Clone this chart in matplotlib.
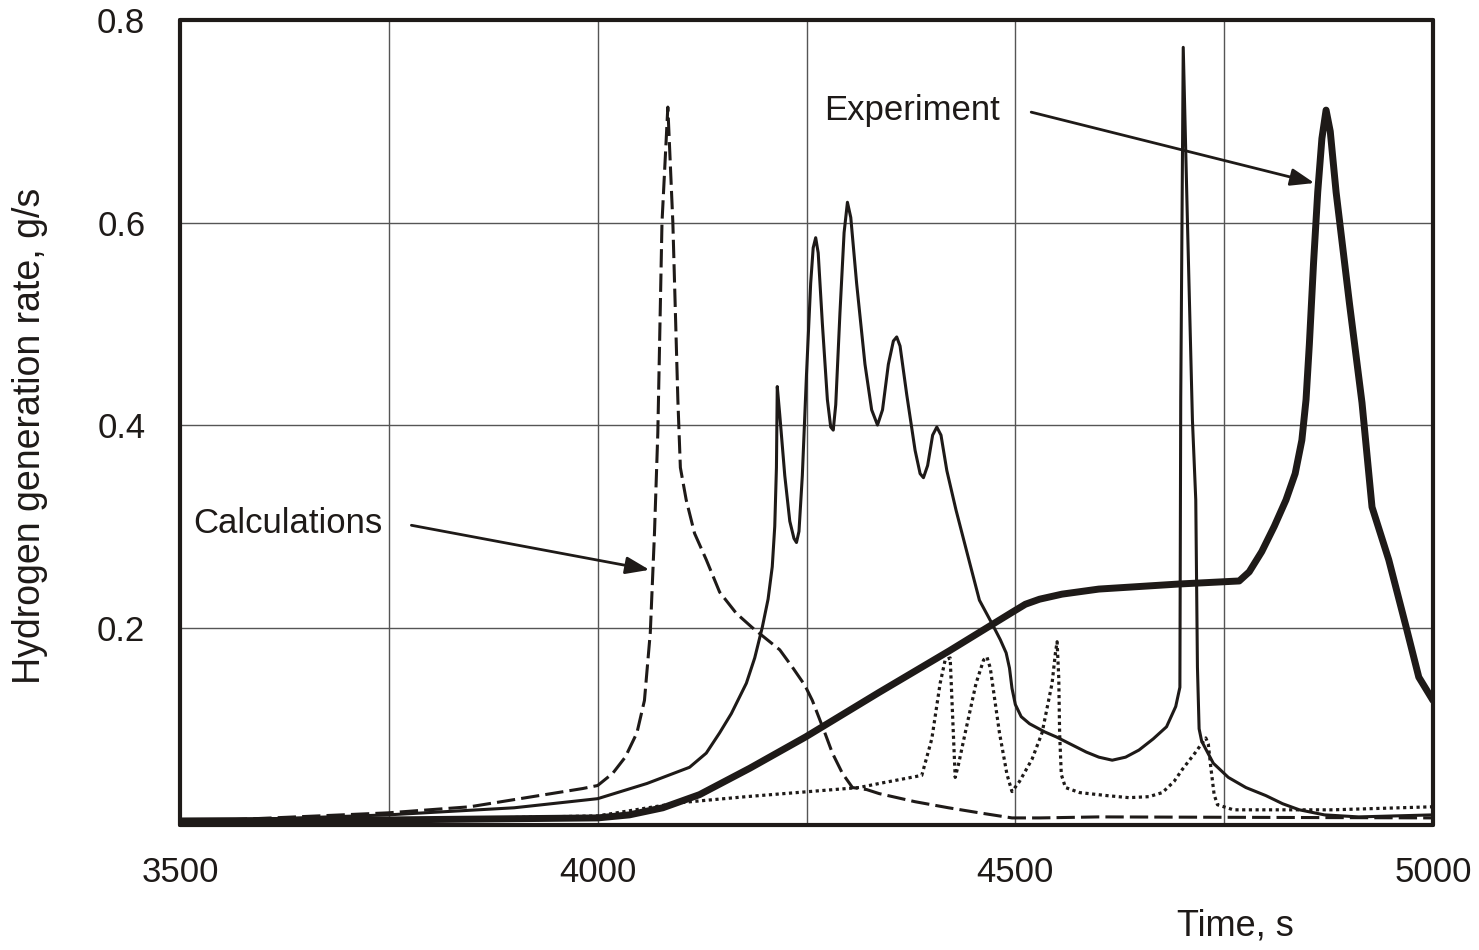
import numpy as np
import matplotlib
matplotlib.use('Agg')
import matplotlib.pyplot as plt

# experiment (thick line)
exp_t = [3500, 3749, 4000, 4038, 4078, 4122, 4182, 4249, 4337, 4421, 4496, 4512, 4529, 4556, 4600,
         4696, 4768, 4780, 4795, 4810, 4824, 4835, 4843, 4848, 4852, 4857, 4862, 4867, 4872,
         4877, 4884, 4900, 4915, 4927, 4947, 4968, 4983, 5000]
exp_g = [0.009, 0.010, 0.012, 0.015, 0.022, 0.035, 0.061, 0.092, 0.136, 0.177, 0.215, 0.223, 0.228, 0.233, 0.238,
         0.243, 0.246, 0.255, 0.275, 0.300, 0.326, 0.352, 0.385, 0.425, 0.480, 0.560, 0.630, 0.683, 0.711,
         0.690, 0.630, 0.520, 0.422, 0.319, 0.267, 0.200, 0.151, 0.128]

# calculation 1 (dashed)
calc1_t = [3500, 3749, 3847, 3982, 4000, 4018, 4033, 4047, 4056, 4063, 4068, 4072, 4077, 4084, 4090,
           4096, 4099, 4106, 4116, 4130, 4146, 4166, 4185, 4218, 4233, 4248, 4257, 4272, 4281, 4293,
           4305, 4322, 4337, 4380, 4420, 4457, 4496, 4530, 4600, 5000]
calc1_g = [0.008, 0.017, 0.023, 0.041, 0.044, 0.056, 0.072, 0.096, 0.128, 0.195, 0.293, 0.392, 0.600, 0.714, 0.600,
           0.425, 0.358, 0.326, 0.293, 0.267, 0.235, 0.214, 0.200, 0.178, 0.161, 0.143, 0.128, 0.096, 0.076, 0.056,
           0.042, 0.040, 0.036, 0.028, 0.022, 0.017, 0.012, 0.012, 0.013, 0.012]

# calculation 2 (thin solid)
calc2_t = [3500, 3749, 3900, 4000, 4059, 4110, 4130, 4146, 4160, 4178, 4188, 4197, 4204, 4209, 4212,
           4214, 4215, 4218, 4224, 4230, 4235, 4238, 4241, 4245, 4250, 4255, 4258, 4261, 4264, 4269,
           4275, 4279, 4282, 4285, 4290, 4295, 4299, 4303, 4310, 4320, 4328, 4335, 4341, 4348, 4354,
           4358, 4362, 4370, 4380, 4386, 4390, 4395, 4401, 4406, 4411, 4418, 4429, 4445, 4457, 4472,
           4482, 4489, 4493, 4496, 4500, 4507, 4517, 4535, 4549, 4585, 4600, 4616, 4632, 4648, 4665,
           4681, 4692, 4697, 4698, 4701, 4706, 4712, 4716, 4718, 4720, 4723, 4728, 4737, 4755, 4776,
           4800, 4820, 4840, 4870, 4911, 5000]
calc2_g = [0.008, 0.015, 0.022, 0.031, 0.046, 0.062, 0.076, 0.096, 0.115, 0.145, 0.170, 0.200, 0.228, 0.260, 0.300,
           0.358, 0.438, 0.410, 0.350, 0.305, 0.288, 0.284, 0.295, 0.350, 0.450, 0.540, 0.575, 0.585, 0.570, 0.500,
           0.425, 0.398, 0.395, 0.420, 0.510, 0.590, 0.620, 0.605, 0.540, 0.460, 0.415, 0.400, 0.415, 0.460, 0.483,
           0.487, 0.478, 0.430, 0.375, 0.352, 0.348, 0.360, 0.390, 0.398, 0.390, 0.355, 0.316, 0.265, 0.227, 0.204,
           0.188, 0.175, 0.160, 0.140, 0.124, 0.112, 0.105, 0.097, 0.092, 0.077, 0.072, 0.069, 0.072, 0.079, 0.090,
           0.102, 0.122, 0.141, 0.425, 0.773, 0.602, 0.405, 0.326, 0.161, 0.100, 0.088, 0.080, 0.066, 0.052, 0.042,
           0.034, 0.026, 0.020, 0.015, 0.013, 0.015]

# calculation 3 (dotted)
calc3_t = [3500, 3749, 4000, 4098, 4178, 4313, 4337, 4388, 4400, 4410, 4416, 4422, 4428, 4432, 4440,
           4453, 4462, 4466, 4470, 4481, 4490, 4496, 4505, 4520, 4532, 4544, 4548, 4550, 4552, 4553,
           4555, 4560, 4577, 4610, 4636, 4660, 4676, 4690, 4700, 4715, 4728, 4731, 4734, 4738, 4742,
           4761, 4880, 5000]
calc3_g = [0.007, 0.010, 0.014, 0.027, 0.033, 0.042, 0.046, 0.054, 0.090, 0.145, 0.168, 0.170, 0.052, 0.065, 0.096,
           0.145, 0.168, 0.171, 0.160, 0.096, 0.055, 0.038, 0.048, 0.070, 0.096, 0.145, 0.175, 0.186, 0.150, 0.096,
           0.055, 0.042, 0.037, 0.034, 0.032, 0.033, 0.037, 0.048, 0.060, 0.076, 0.091, 0.085, 0.062, 0.035, 0.025,
           0.020, 0.020, 0.023]

x_major = [3500, 4000, 4500, 5000]
x_minor = [3750, 4250, 4750]
y_major = [0.2, 0.4, 0.6, 0.8]

ink = '#1e1a18'
plt.rcParams['font.family'] = ['Liberation Sans', 'DejaVu Sans']

fig = plt.figure(figsize=(14.79, 9.5), dpi=100)
ax = fig.add_axes([180 / 1479, 1 - 825 / 950, 1253 / 1479, 805 / 950])

ax.plot(calc3_t, calc3_g, color=ink, lw=2.3, linestyle=(0, (1, 1.1)))
ax.plot(calc1_t, calc1_g, color=ink, lw=2.2, linestyle=(0, (6, 2)))
ax.plot(calc2_t, calc2_g, color=ink, lw=2.2, solid_joinstyle='round')
ax.plot(exp_t, exp_g, color=ink, lw=5.0, solid_joinstyle='round', solid_capstyle='round')

ax.set_xlim(3500, 5000)
ax.set_ylim(0.005, 0.8)
ax.set_xticks(x_major)
ax.set_xticks(x_minor, minor=True)
ax.set_yticks(y_major)
ax.set_xticklabels([str(v) for v in x_major])
ax.set_yticklabels(['%.1f' % v for v in y_major])
ax.tick_params(which='both', length=0, labelsize=25, labelcolor=ink)
ax.tick_params(axis='x', pad=22)
ax.tick_params(axis='y', pad=25)
ax.grid(True, which='both', color='#555555', lw=1.0)
ax.set_axisbelow(True)

for s in ax.spines.values():
    s.set_linewidth(3)
    s.set_color(ink)
    s.set_joinstyle('round')
    s.set_capstyle('round')

# annotations
ax.text(4376, 0.711, 'Experiment', fontsize=25, color=ink, ha='center', va='center')
ax.annotate('', xy=(4858, 0.639), xytext=(4519, 0.709),
            arrowprops=dict(arrowstyle='-|>,head_length=0.6,head_width=0.22', lw=2.0, color=ink,
                            mutation_scale=24, shrinkA=0, shrinkB=0))
ax.text(3629, 0.303, 'Calculations', fontsize=25, color=ink, ha='center', va='center')
ax.annotate('', xy=(4062, 0.257), xytext=(3777, 0.301),
            arrowprops=dict(arrowstyle='-|>,head_length=0.6,head_width=0.22', lw=2.0, color=ink,
                            mutation_scale=24, shrinkA=0, shrinkB=0))

fig.text(1235 / 1479, 1 - 926 / 950, 'Time, s', fontsize=26, color=ink, ha='center', va='center')
fig.text(30 / 1479, 1 - 436 / 950, 'Hydrogen generation rate, g/s', fontsize=27, color=ink,
         ha='center', va='center', rotation=90)

fig.savefig('out.png', dpi=100)
